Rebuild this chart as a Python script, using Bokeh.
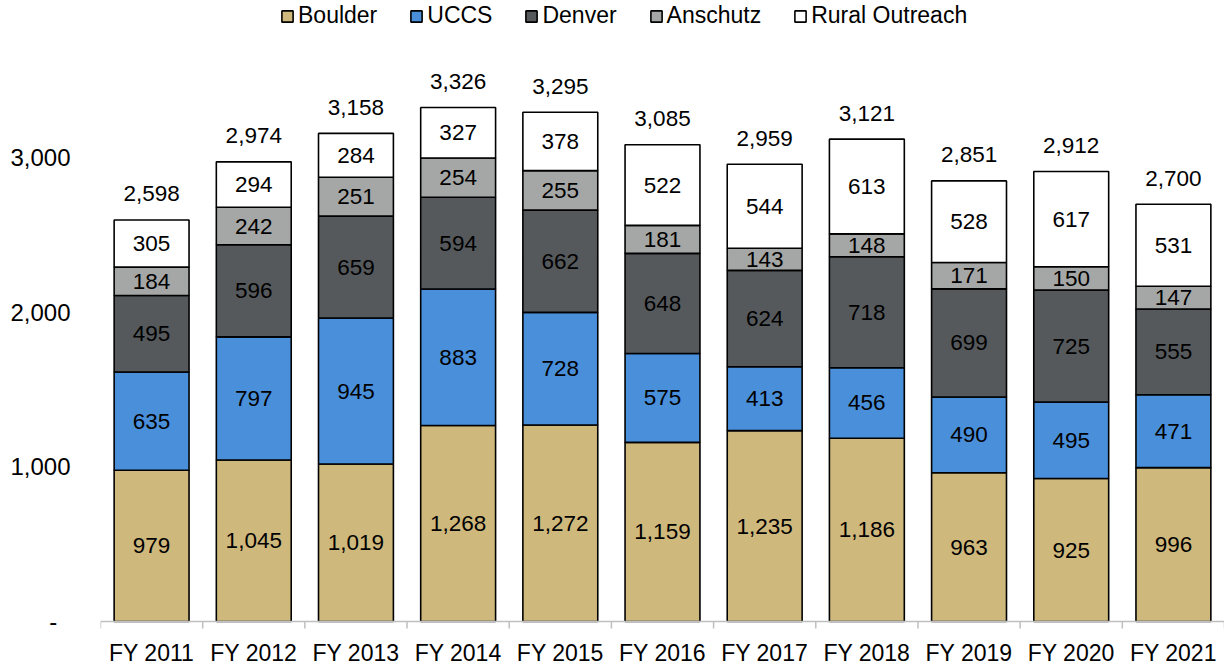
import numpy as np
from bokeh.plotting import figure
from bokeh.models import (FactorRange, Range1d, ColumnDataSource, FixedTicker, Span,
                          Legend, LegendItem)
from bokeh.transform import dodge
from bokeh.core.properties import value
from bokeh.embed import file_html
from bokeh.resources import INLINE

years = ["FY 2011", "FY 2012", "FY 2013", "FY 2014", "FY 2015", "FY 2016",
         "FY 2017", "FY 2018", "FY 2019", "FY 2020", "FY 2021"]
series = ["Boulder", "UCCS", "Denver", "Anschutz", "Rural Outreach"]
boulder = [979, 1045, 1019, 1268, 1272, 1159, 1235, 1186, 963, 925, 996]
uccs = [635, 797, 945, 883, 728, 575, 413, 456, 490, 495, 471]
denver = [495, 596, 659, 594, 662, 648, 624, 718, 699, 725, 555]
anschutz = [184, 242, 251, 254, 255, 181, 143, 148, 171, 150, 147]
rural = [305, 294, 284, 327, 378, 522, 544, 613, 528, 617, 531]
colors = ["#CFB87C", "#4A8FDA", "#55595C", "#A5A7A6", "#FFFFFF"]
y_ticks = [0, 1000, 2000, 3000]
y_tick_labels = ["-\u00a0\u00a0", "1,000", "2,000", "3,000"]

FONT = "Liberation Sans"

keys = ["boulder", "uccs", "denver", "anschutz", "rural"]
vals = [boulder, uccs, denver, anschutz, rural]
data = {"year": years}
for k, v in zip(keys, vals):
    data[k] = v
source = ColumnDataSource(data)

p = figure(x_range=FactorRange(*years), y_range=Range1d(-58, 4018),
           width=1224, height=668, output_backend="svg", toolbar_location=None,
           min_border_left=100, min_border_right=0, min_border_top=0,
           min_border_bottom=35)
p.outline_line_color = None
p.xgrid.grid_line_color = None
p.ygrid.grid_line_color = None

renderers = p.vbar_stack(keys, x="year", width=0.733, source=source,
                         fill_color=colors, line_color="black", line_width=1.6)

# segment labels
arr = np.array(vals, dtype=float)
cum = np.cumsum(arr, axis=0)
centers = cum - arr / 2
lx, ly, lt = [], [], []
for i in range(len(keys)):
    for j, yr in enumerate(years):
        lx.append(yr)
        ly.append(centers[i, j])
        lt.append(f"{vals[i][j]:,}")
p.text(x=lx, y=ly, text=lt, text_align="center", text_baseline="middle",
       text_font=value(FONT), text_font_size="22.5px", text_color="black")

totals = cum[-1]
p.text(x=years, y=list(totals), text=[f"{int(t):,}" for t in totals],
       text_align="center", text_baseline="middle", y_offset=-26,
       text_font=value(FONT), text_font_size="22.5px", text_color="black")

# category axis line and boundary ticks
p.add_layout(Span(location=0, dimension="width", line_color="#BFBFBF", line_width=1.5))
tsrc = ColumnDataSource({"year": years, "y0": [0] * len(years), "y1": [-45] * len(years)})
p.segment(x0=dodge("year", -0.5, range=p.x_range), x1=dodge("year", -0.5, range=p.x_range),
          y0="y0", y1="y1", source=tsrc, line_color="#BFBFBF", line_width=1.5)
p.segment(x0=dodge("year", 0.5, range=p.x_range), x1=dodge("year", 0.5, range=p.x_range),
          y0="y0", y1="y1", source=ColumnDataSource({"year": [years[-1]], "y0": [0], "y1": [-45]}),
          line_color="#BFBFBF", line_width=1.5)

# axes
p.yaxis.ticker = FixedTicker(ticks=y_ticks)
p.yaxis.major_label_overrides = {t: l for t, l in zip(y_ticks, y_tick_labels)}
p.yaxis.axis_line_color = None
p.yaxis.major_tick_line_color = None
p.yaxis.minor_tick_line_color = None
p.yaxis.major_tick_out = 0
p.yaxis.major_label_standoff = 30
p.yaxis.major_label_text_font = FONT
p.yaxis.major_label_text_font_size = "24px"
p.yaxis.major_label_text_color = "black"

p.xaxis.axis_line_color = None
p.xaxis.major_tick_line_color = None
p.xaxis.minor_tick_line_color = None
p.xaxis.major_tick_out = 0
p.xaxis.major_label_standoff = 9
p.xaxis.major_label_text_font = FONT
p.xaxis.major_label_text_font_size = "23px"
p.xaxis.major_label_text_color = "black"

legend = Legend(items=[LegendItem(label=s, renderers=[r]) for s, r in zip(series, renderers)],
                orientation="horizontal", location=(180, 601),
                border_line_color=None, background_fill_alpha=0, padding=0, margin=0,
                spacing=32, label_standoff=4, glyph_width=14, glyph_height=14,
                label_text_font=FONT, label_text_font_size="23px", label_text_color="black")
p.add_layout(legend, "center")

open("out.html", "w").write(file_html(p, INLINE))
